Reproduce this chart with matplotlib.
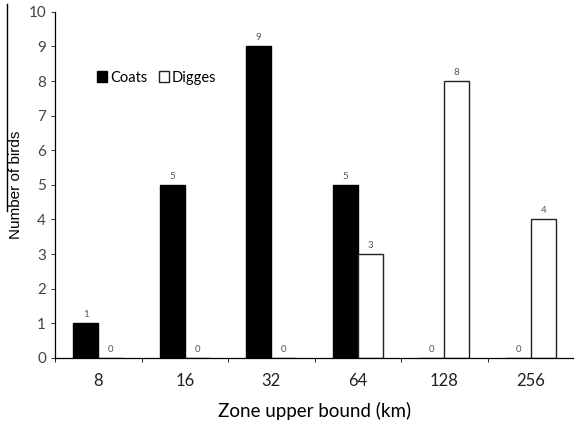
import numpy as np
import matplotlib.pyplot as plt
from matplotlib.lines import Line2D

# Birds per zone
zones = ["8", "16", "32", "64", "128", "256"]
coats = [1, 5, 9, 5, 0, 0]
digges = [0, 0, 0, 3, 8, 4]

plt.rcParams['font.family'] = ['Lato', 'DejaVu Sans']

fig = plt.figure(figsize=(5.74, 4.22), dpi=100)
ax = fig.add_axes([0.096, 0.152, 0.904, 0.82])

x = np.arange(len(zones))
w = 0.29
b1 = ax.bar(x - w / 2, coats, w, color="black", edgecolor="black", linewidth=1, label="Coats")
b2 = ax.bar(x + w / 2, digges, w, color="white", edgecolor="#222222", linewidth=1, label="Digges")

# value labels above each bar
for bars, vals in ((b1, coats), (b2, digges)):
    for rect, v in zip(bars, vals):
        ax.annotate(str(v), (rect.get_x() + rect.get_width() / 2, v),
                    xytext=(0, 3), textcoords="offset points",
                    ha="center", va="bottom", fontsize=7, color="#555555")

ax.set_xlim(-0.5, len(zones) - 0.5)
ax.set_ylim(0, 10)
ax.set_yticks(range(0, 11))
ax.tick_params(axis="y", labelsize=11, colors="#444444", length=3, direction="out")
ax.set_xticks(x)
ax.set_xticklabels(zones, fontsize=12, color="#222222")
ax.tick_params(axis="x", length=0, pad=11)
ax.set_xticks(np.arange(-0.5, len(zones)), minor=True)
ax.tick_params(axis="x", which="minor", length=3, direction="out")

for s in ("top", "right"):
    ax.spines[s].set_visible(False)
ax.spines["left"].set_linewidth(0.9)
ax.spines["bottom"].set_linewidth(0.9)

ax.set_xlabel("Zone upper bound (km)", fontsize=13.5, labelpad=9)
ax.set_ylabel("Number of birds", fontsize=11, family=["Liberation Sans"], labelpad=4)

ax.legend(loc="center left", bbox_to_anchor=(0.055, 0.81), ncol=2, frameon=False,
          fontsize=10.5, handlelength=0.7, handleheight=0.7, handletextpad=0.2,
          columnspacing=0.8)

# scan border line at the left edge
fig.add_artist(Line2D([0.012, 0.012], [0.5, 0.99], color="black", linewidth=1))

fig.savefig("out.png", dpi=100)
